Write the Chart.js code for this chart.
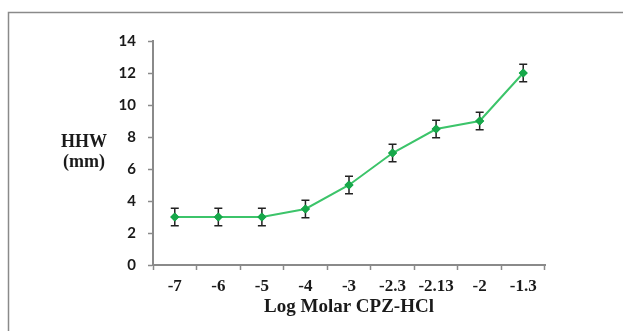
<!DOCTYPE html>
<html><head><meta charset="utf-8">
<script src="https://cdn.jsdelivr.net/npm/chart.js@4/dist/chart.umd.min.js"></script>
<style>html,body{margin:0;padding:0;background:#fff;}#wrap{width:623px;height:331px;position:relative;}</style>
</head><body><div id="wrap"><canvas id="c" width="623" height="331"></canvas></div>
<script>
const categories = ["-7","-6","-5","-4","-3","-2.3","-2.13","-2","-1.3"];
const hhw = [3, 3, 3, 3.5, 5, 7, 8.5, 9, 12];
const hhwErr = [0.55, 0.55, 0.55, 0.55, 0.55, 0.55, 0.55, 0.55, 0.55];
const yTicks = [0, 2, 4, 6, 8, 10, 12, 14];
const xTitle = "Log Molar CPZ-HCl";
const yTitle = ["HHW", "(mm)"];

const extras = {
  id: 'extras',
  beforeDraw(chart) {
    const ctx = chart.ctx;
    ctx.save();
    ctx.strokeStyle = '#8a8a8a';
    ctx.lineWidth = 1.5;
    ctx.beginPath();
    ctx.moveTo(8.5, 331); ctx.lineTo(8.5, 12.5); ctx.lineTo(623, 12.5);
    ctx.stroke();
    ctx.fillStyle = '#1a1a1a';
    ctx.font = 'bold 18px "Liberation Serif"';
    ctx.textAlign = 'center';
    ctx.textBaseline = 'middle';
    ctx.fillText(yTitle[0], 84, 142);
    ctx.fillText(yTitle[1], 84, 162);
    ctx.restore();
  },
  afterDatasetsDraw(chart) {
    const ctx = chart.ctx;
    const xs = chart.scales.x, ys = chart.scales.y;
    ctx.save();
    ctx.strokeStyle = '#222';
    ctx.lineWidth = 1.5;
    hhw.forEach((v, i) => {
      const x = xs.getPixelForValue(i);
      const y1 = ys.getPixelForValue(v + hhwErr[i]);
      const y2 = ys.getPixelForValue(v - hhwErr[i]);
      ctx.beginPath();
      ctx.moveTo(x, y1); ctx.lineTo(x, y2);
      ctx.moveTo(x - 4, y1); ctx.lineTo(x + 4, y1);
      ctx.moveTo(x - 4, y2); ctx.lineTo(x + 4, y2);
      ctx.stroke();
    });
    const meta = chart.getDatasetMeta(0);
    meta.data.forEach(p => p.draw(ctx));
    ctx.restore();
  }
};

new Chart(document.getElementById('c'), {
  type: 'line',
  data: {
    labels: categories,
    datasets: [{
      data: hhw,
      borderColor: '#3cc46a',
      borderWidth: 2,
      pointStyle: 'rectRot',
      pointRadius: 4.5,
      pointBackgroundColor: '#17a84a',
      pointBorderColor: '#17a84a',
      pointBorderWidth: 0,
      tension: 0
    }]
  },
  options: {
    responsive: false,
    animation: false,
    layout: { padding: { left: 0, right: 78, top: 41, bottom: 13 } },
    plugins: { legend: { display: false }, tooltip: { enabled: false } },
    scales: {
      x: {
        offset: true,
        grid: { display: true, offset: true, drawOnChartArea: false, color: '#8a8a8a', tickLength: 5, tickWidth: 1.5 },
        border: { color: '#8a8a8a', width: 2 },
        ticks: { color: '#1a1a1a', font: { family: 'Liberation Serif', weight: 'bold', size: 17 }, padding: 6, maxRotation: 0, autoSkip: false },
        title: { display: true, text: xTitle, color: '#1a1a1a', font: { family: 'Liberation Serif', weight: 'bold', size: 19 }, padding: { top: 0, bottom: 0 } },
        afterFit(s) { s.height = 53; }
      },
      y: {
        min: 0, max: 14,
        afterBuildTicks(s) { s.ticks = yTicks.map(v => ({ value: v })); },
        grid: { display: true, drawOnChartArea: false, color: '#8a8a8a', tickLength: 5, tickWidth: 1.5 },
        border: { color: '#8a8a8a', width: 2 },
        ticks: { color: '#1a1a1a', font: { family: 'Lato', weight: 'bold', size: 15 }, padding: 12 },
        afterFit(s) { s.width = 153; }
      }
    }
  },
  plugins: [extras]
});
</script></body></html>
